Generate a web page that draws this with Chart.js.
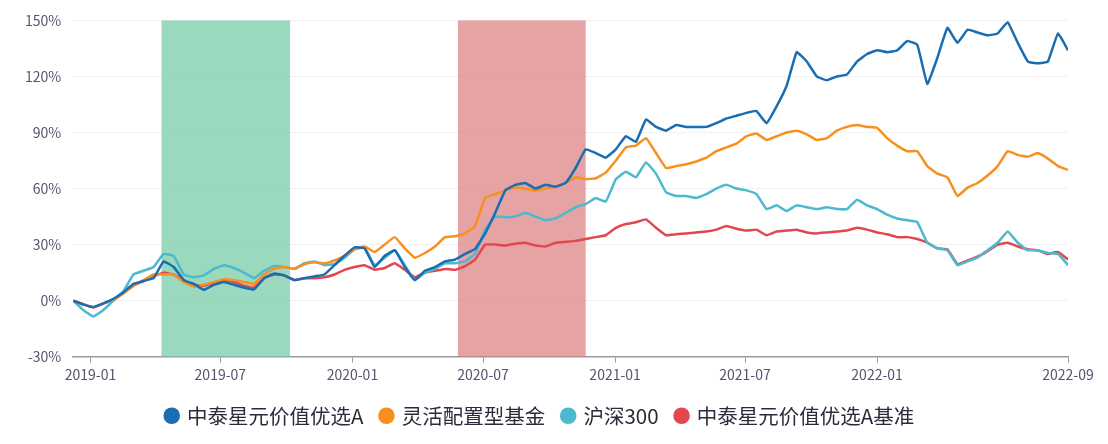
<!DOCTYPE html>
<html lang="zh">
  <head>
    <meta charset="UTF-8" />
    <title>中泰星元价值优选A</title>
    <script src="https://cdn.jsdelivr.net/npm/chart.js"></script>
    <style>
      body {
        margin: 0;
        background: #fff;
      }
      #wrap {
        width: 1108px;
        height: 444px;
      }
    </style>
  </head>
  <body>
    <div id="wrap"><canvas id="navChart"></canvas></div>

    <script>
      // dates: one point every 14 days from the first date
      const startDate = '2018-12-08'
      const stepDays = 14

      const tickDates = ['2019-01-01', '2019-07-01', '2020-01-01', '2020-07-01', '2021-01-01', '2021-07-01', '2022-01-01', '2022-09-24']
      const tickLabels = ['2019-01', '2019-07', '2020-01', '2020-07', '2021-01', '2021-07', '2022-01', '2022-09']

      // shaded periods
      const greenBand = ['2019-04-10', '2019-10-06']
      const redBand = ['2020-05-27', '2020-11-21']

      const seriesNames = ['中泰星元价值优选A', '灵活配置型基金', '沪深300', '中泰星元价值优选A基准']

      // cumulative return, %
      const fundA = [
        0, -2, -3.5, -1.5, 1, 4.5, 9, 10.5, 12, 21,
        18, 11, 9, 5.8, 8.5, 10, 8.5, 7, 6, 12,
        14.5, 13.5, 11, 12, 13, 14, 19, 24, 28.5, 28,
        18, 24, 27, 18, 11, 16, 18, 21, 22, 25,
        27.7, 36, 47, 59, 62, 63, 60, 62, 61, 63,
        71, 81, 79, 76.5, 81, 88, 85, 97, 93, 91,
        94, 93, 93, 93, 95, 97.5, 99, 100.5, 101.5, 95,
        104, 115, 133, 128, 120, 118, 120, 121, 128, 132,
        134, 133, 134, 139, 137, 116, 130, 146, 138, 145,
        143.5, 142, 143, 149, 138, 128, 127, 128, 143, 134
      ]
      const mixedFunds = [
        0, -2, -3.5, -1.5, 0.5, 4, 8, 11, 14, 14,
        14, 10, 7.5, 8.5, 10, 11.5, 11, 10, 9, 14,
        17, 18, 17, 19.5, 20.5, 20, 21.5, 24, 27.5, 29,
        26, 30, 34, 28, 23, 25.5, 29, 34, 34.5, 36,
        40, 55, 57, 59, 60.5, 60, 59, 60, 61, 63,
        66, 65, 65.5, 68.5, 75, 82, 83, 87, 79, 71,
        72, 73, 74.5, 76.5, 80, 82, 84, 88, 89.5, 86,
        88, 90, 91, 89, 86, 87, 91, 93, 94, 93,
        92.5, 87, 83, 80, 80, 72, 68, 66, 56, 60.5,
        63, 67, 72, 80, 78, 77, 79, 76, 72, 70
      ]
      const csi300 = [
        0, -5, -8.5, -5, 0, 5, 14, 16, 18, 25,
        24, 14, 12.5, 13.5, 17, 19, 17.5, 15, 12, 16,
        18.5, 18, 17, 20, 21, 19, 19.5, 23, 27.5, 28.5,
        19, 23, 27, 19, 11, 15, 17, 20, 20, 21,
        25, 38, 45, 44.6, 45, 47, 45, 43, 44, 47,
        50, 51.7, 55, 53, 65, 69, 66, 74, 68, 58,
        56, 56, 55, 57, 60, 62, 60, 59, 57, 49,
        51, 48, 51, 50, 49, 50, 49, 49, 54, 51,
        49, 46, 44, 43, 42, 31, 28, 27, 19, 21,
        23, 27, 31, 37, 31, 27, 27, 25.5, 25, 19
      ]
      const benchmark = [
        0, -2, -3.5, -1.5, 0.5, 4, 8, 10.5, 13, 15,
        14, 11, 8.5, 8, 9.5, 11, 10, 8, 7, 12,
        14, 13.5, 11, 12, 12, 12.5, 14, 16.5, 18, 19,
        16.5, 17.5, 20, 16.5, 12.5, 15, 16, 17, 16.5, 18.5,
        22, 30, 30, 29.5, 30.5, 31, 29.5, 29, 31, 31.5,
        32, 33, 34, 35, 39, 41, 42, 43.5, 39, 35,
        35.5, 36, 36.5, 37, 38, 40, 38.5, 37.5, 38, 35,
        37, 37.5, 38, 36.5, 36, 36.5, 37, 37.5, 39, 38,
        36.5, 35.5, 34, 34, 33, 31, 28, 27.5, 19.5, 21.5,
        23.5, 26.5, 30, 31, 29, 27.5, 27, 25, 26, 22
      ]

      const colors = ['#1b6db2', '#f7901e', '#4cb9cf', '#e2474f']

      const DAY = 86400000
      const toDay = (s) => Date.parse(s) / DAY
      const firstDay = toDay(startDate)

      function points(values) {
        return values.map((v, i) => ({ x: firstDay + i * stepDays, y: v }))
      }

      const lastDay = firstDay + (fundA.length - 1) * stepDays
      const tickDays = tickDates.map(toDay)

      // draw the shaded periods behind the lines
      const bandsPlugin = {
        id: 'bands',
        beforeDatasetsDraw(chart) {
          const { ctx, chartArea, scales } = chart
          const bands = [
            [greenBand, 'rgba(122, 204, 170, 0.75)'],
            [redBand, 'rgba(218, 124, 124, 0.7)'],
          ]
          ctx.save()
          bands.forEach(([range, fill]) => {
            const x1 = scales.x.getPixelForValue(toDay(range[0]))
            const x2 = scales.x.getPixelForValue(toDay(range[1]))
            ctx.fillStyle = fill
            ctx.fillRect(x1, chartArea.top, x2 - x1, chartArea.bottom - chartArea.top)
          })
          ctx.restore()
        },
      }

      const font = "'Noto Sans CJK SC', 'Noto Sans', sans-serif"

      new Chart(document.getElementById('navChart'), {
        type: 'line',
        data: {
          datasets: [fundA, mixedFunds, csi300, benchmark].map((vals, i) => ({
            label: seriesNames[i],
            data: points(vals),
            borderColor: colors[i],
            backgroundColor: colors[i],
            borderWidth: 2.5,
            pointRadius: 0,
            tension: 0.1,
            order: i,
          })),
        },
        options: {
          responsive: true,
          maintainAspectRatio: false,
          animation: false,
          layout: { padding: { left: 13, right: 40, top: -3, bottom: 8 } },
          plugins: {
            tooltip: { enabled: false },
            legend: {
              position: 'bottom',
              labels: {
                usePointStyle: true,
                pointStyle: 'circle',
                boxWidth: 10,
                boxHeight: 10,
                padding: 18,
                color: '#2f2a3a',
                font: { family: font, size: 20.5 },
              },
            },
          },
          scales: {
            x: {
              type: 'linear',
              min: firstDay,
              max: lastDay,
              afterBuildTicks(axis) {
                axis.ticks = tickDays.map((d) => ({ value: d }))
              },
              grid: { drawOnChartArea: false, drawTicks: true, tickLength: 6, color: '#9a9aa6' },
              border: { display: true, color: '#9a9aa6', width: 1.5 },
              ticks: {
                autoSkip: false,
                maxRotation: 0,
                padding: 4,
                color: '#5a5270',
                font: { family: font, size: 14 },
                callback: (v, i) => tickLabels[i],
              },
            },
            y: {
              min: -30,
              max: 150,
              grid: { color: '#f2f2f4', drawTicks: false },
              border: { display: false },
              ticks: {
                stepSize: 30,
                padding: 12,
                color: '#5a5270',
                font: { family: font, size: 14 },
                callback: (v) => v + '%',
              },
            },
          },
        },
        plugins: [bandsPlugin],
      })
    </script>
  </body>
</html>
